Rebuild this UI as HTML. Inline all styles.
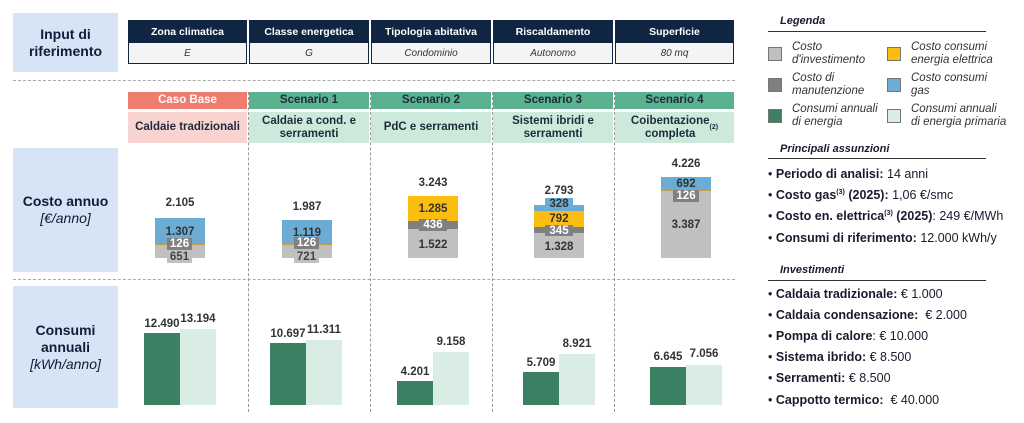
<!DOCTYPE html>
<html><head><meta charset="utf-8"><style>
*{margin:0;padding:0;box-sizing:border-box}
body{width:1024px;height:423px;background:#fff;font-family:"Liberation Sans",sans-serif;position:relative;overflow:hidden;color:#1a1a2e}
.a{position:absolute}
.lb{background:#d6e4f5;display:flex;flex-direction:column;justify-content:center;align-items:center;text-align:center;font-weight:bold;font-size:14px;color:#0f1e38;line-height:17px}
.lb i{font-weight:normal}
.hd{background:#0f2542;color:#fff;font-size:10.5px;font-weight:bold;display:flex;align-items:center;justify-content:center}
.vl{background:#f4f4f4;border:1px solid #0f2542;font-size:10px;font-style:italic;display:flex;align-items:center;justify-content:center;color:#333}
.sc{font-size:11.5px;font-weight:bold;display:flex;align-items:center;justify-content:center;text-align:center;line-height:13px;color:#1f2a3a}
.hl{border-top:1px dashed #aaa}
.vd{border-left:1px dashed #999}
.t{font-size:11.5px;font-weight:bold;color:#333;text-align:center}
.bx{font-size:11.5px;font-weight:bold;color:#fff;display:flex;align-items:center;justify-content:center}
.r{font-size:12.5px;color:#1a1a2e}
.sq{width:14px;height:14px;border:1px solid #777}
.li{font-size:11.5px;font-style:italic;color:#333;line-height:13px}
.ti{font-size:11px;font-weight:bold;font-style:italic}
.ul{height:1px;background:#333}
</style></head><body>
<div class="a lb" style="left:13px;top:13px;width:105px;height:59px">Input di<br>riferimento</div>
<div class="a lb" style="left:13px;top:148px;width:105px;height:124px">Costo annuo<i>[€/anno]</i></div>
<div class="a lb" style="left:13px;top:286px;width:105px;height:122px">Consumi<br>annuali<i>[kWh/anno]</i></div>

<div class="a hd" style="left:128px;top:20px;width:119px;height:23px">Zona climatica</div>
<div class="a hd" style="left:249px;top:20px;width:120px;height:23px">Classe energetica</div>
<div class="a hd" style="left:371px;top:20px;width:120px;height:23px">Tipologia abitativa</div>
<div class="a hd" style="left:493px;top:20px;width:120px;height:23px">Riscaldamento</div>
<div class="a hd" style="left:615px;top:20px;width:119px;height:23px">Superficie</div>
<div class="a vl" style="left:128px;top:42px;width:119px;height:22px">E</div>
<div class="a vl" style="left:249px;top:42px;width:120px;height:22px">G</div>
<div class="a vl" style="left:371px;top:42px;width:120px;height:22px">Condominio</div>
<div class="a vl" style="left:493px;top:42px;width:120px;height:22px">Autonomo</div>
<div class="a vl" style="left:615px;top:42px;width:119px;height:22px">80 mq</div>

<div class="a hl" style="left:13px;top:80px;width:722px"></div>
<div class="a hl" style="left:13px;top:279px;width:722px"></div>

<div class="a sc" style="left:128px;top:92px;width:119px;height:17px;background:#ef7d6f;color:#fff">Caso Base</div>
<div class="a sc" style="left:249px;top:92px;width:120px;height:17px;background:#5bb28e">Scenario 1</div>
<div class="a sc" style="left:371px;top:92px;width:120px;height:17px;background:#5bb28e">Scenario 2</div>
<div class="a sc" style="left:493px;top:92px;width:120px;height:17px;background:#5bb28e">Scenario 3</div>
<div class="a sc" style="left:615px;top:92px;width:119px;height:17px;background:#5bb28e">Scenario 4</div>
<div class="a sc" style="left:128px;top:112px;width:119px;height:31px;background:#f7d4cf">Caldaie tradizionali</div>
<div class="a sc" style="left:249px;top:112px;width:120px;height:31px;background:#cce9dc">Caldaie a cond. e<br>serramenti</div>
<div class="a sc" style="left:371px;top:112px;width:120px;height:31px;background:#cce9dc">PdC e serramenti</div>
<div class="a sc" style="left:493px;top:112px;width:120px;height:31px;background:#cce9dc">Sistemi ibridi e<br>serramenti</div>
<div class="a sc" style="left:615px;top:112px;width:119px;height:31px;background:#cce9dc">Coibentazione<br>completa<sup style="font-size:7px">(2)</sup></div>

<div class="a vd" style="left:248px;top:92px;height:320px"></div>
<div class="a vd" style="left:370px;top:92px;height:320px"></div>
<div class="a vd" style="left:492px;top:92px;height:320px"></div>
<div class="a vd" style="left:614px;top:92px;height:320px"></div>

<!-- cost bars -->
<div class="a" style="left:155px;top:218px;width:50px;height:26px;background:#6aacd4"></div>
<div class="a" style="left:155px;top:244px;width:50px;height:1px;background:#c59a4a"></div>
<div class="a" style="left:155px;top:245px;width:50px;height:13px;background:#c0c0c0"></div>
<div class="a t" style="left:150px;top:197px;width:60px">2.105</div>
<div class="a t" style="left:155px;top:226px;width:50px">1.307</div>
<div class="a bx" style="left:167px;top:238px;width:25px;height:12px;background:#808080">126</div>
<div class="a bx" style="left:167px;top:250px;width:25px;height:13px;background:#c0c0c0;color:#444">651</div>

<div class="a" style="left:282px;top:220px;width:50px;height:24px;background:#6aacd4"></div>
<div class="a" style="left:282px;top:244px;width:50px;height:1px;background:#c59a4a"></div>
<div class="a" style="left:282px;top:245px;width:50px;height:13px;background:#c0c0c0"></div>
<div class="a t" style="left:277px;top:201px;width:60px">1.987</div>
<div class="a t" style="left:282px;top:227px;width:50px">1.119</div>
<div class="a bx" style="left:294px;top:237px;width:25px;height:12px;background:#808080">126</div>
<div class="a bx" style="left:294px;top:250px;width:25px;height:13px;background:#c0c0c0;color:#444">721</div>

<div class="a" style="left:408px;top:196px;width:50px;height:25px;background:#fbbd0f"></div>
<div class="a" style="left:408px;top:221px;width:50px;height:8px;background:#808080"></div>
<div class="a" style="left:408px;top:229px;width:50px;height:29px;background:#c0c0c0"></div>
<div class="a t" style="left:403px;top:177px;width:60px">3.243</div>
<div class="a t" style="left:408px;top:203px;width:50px">1.285</div>
<div class="a bx" style="left:419px;top:219px;width:28px;height:12px;background:#808080">436</div>
<div class="a t" style="left:408px;top:239px;width:50px">1.522</div>

<div class="a" style="left:534px;top:205px;width:50px;height:6px;background:#6aacd4"></div>
<div class="a" style="left:534px;top:211px;width:50px;height:16px;background:#fbbd0f"></div>
<div class="a" style="left:534px;top:227px;width:50px;height:6px;background:#808080"></div>
<div class="a" style="left:534px;top:233px;width:50px;height:25px;background:#c0c0c0"></div>
<div class="a t" style="left:529px;top:185px;width:60px">2.793</div>
<div class="a bx" style="left:545px;top:198px;width:28px;height:12px;background:#6aacd4;color:#333">328</div>
<div class="a t" style="left:534px;top:213px;width:50px">792</div>
<div class="a bx" style="left:545px;top:225px;width:28px;height:11px;background:#808080">345</div>
<div class="a t" style="left:534px;top:241px;width:50px">1.328</div>

<div class="a" style="left:661px;top:177px;width:50px;height:13px;background:#6aacd4"></div>
<div class="a" style="left:661px;top:190px;width:50px;height:1px;background:#c59a4a"></div>
<div class="a" style="left:661px;top:191px;width:50px;height:67px;background:#c0c0c0"></div>
<div class="a t" style="left:656px;top:158px;width:60px">4.226</div>
<div class="a t" style="left:661px;top:178px;width:50px">692</div>
<div class="a bx" style="left:673px;top:190px;width:26px;height:12px;background:#808080">126</div>
<div class="a t" style="left:661px;top:219px;width:50px">3.387</div>

<!-- consumption bars -->
<div class="a" style="left:144px;top:333px;width:36px;height:72px;background:#3c8064"></div>
<div class="a" style="left:180px;top:329px;width:36px;height:76px;background:#d9ede4"></div>
<div class="a t" style="left:137px;top:318px;width:50px">12.490</div>
<div class="a t" style="left:173px;top:313px;width:50px">13.194</div>
<div class="a" style="left:270px;top:343px;width:36px;height:62px;background:#3c8064"></div>
<div class="a" style="left:306px;top:340px;width:36px;height:65px;background:#d9ede4"></div>
<div class="a t" style="left:263px;top:328px;width:50px">10.697</div>
<div class="a t" style="left:299px;top:324px;width:50px">11.311</div>
<div class="a" style="left:397px;top:381px;width:36px;height:24px;background:#3c8064"></div>
<div class="a" style="left:433px;top:352px;width:36px;height:53px;background:#d9ede4"></div>
<div class="a t" style="left:390px;top:366px;width:50px">4.201</div>
<div class="a t" style="left:426px;top:336px;width:50px">9.158</div>
<div class="a" style="left:523px;top:372px;width:36px;height:33px;background:#3c8064"></div>
<div class="a" style="left:559px;top:354px;width:36px;height:51px;background:#d9ede4"></div>
<div class="a t" style="left:516px;top:357px;width:50px">5.709</div>
<div class="a t" style="left:552px;top:338px;width:50px">8.921</div>
<div class="a" style="left:650px;top:367px;width:36px;height:38px;background:#3c8064"></div>
<div class="a" style="left:686px;top:365px;width:36px;height:40px;background:#d9ede4"></div>
<div class="a t" style="left:643px;top:351px;width:50px">6.645</div>
<div class="a t" style="left:679px;top:348px;width:50px">7.056</div>

<!-- right panel -->
<div class="a ti" style="left:780px;top:15px">Legenda</div>
<div class="a ul" style="left:768px;top:31px;width:218px"></div>
<div class="a sq" style="left:768px;top:47px;background:#c0c0c0"></div>
<div class="a li" style="left:792px;top:41px">Costo<br>d'investimento</div>
<div class="a sq" style="left:887px;top:47px;background:#fbbd0f"></div>
<div class="a li" style="left:911px;top:41px">Costo consumi<br>energia elettrica</div>
<div class="a sq" style="left:768px;top:78px;background:#808080"></div>
<div class="a li" style="left:792px;top:72px">Costo di<br>manutenzione</div>
<div class="a sq" style="left:887px;top:78px;background:#6aacd4"></div>
<div class="a li" style="left:911px;top:72px">Costo consumi<br>gas</div>
<div class="a sq" style="left:768px;top:109px;background:#3c8064"></div>
<div class="a li" style="left:792px;top:103px">Consumi annuali<br>di energia</div>
<div class="a sq" style="left:887px;top:109px;background:#d9ede4"></div>
<div class="a li" style="left:911px;top:103px">Consumi annuali<br>di energia primaria</div>

<div class="a ti" style="left:780px;top:143px">Principali assunzioni</div>
<div class="a ul" style="left:768px;top:158px;width:218px"></div>
<div class="a r" style="left:768px;top:167px">• <b>Periodo di analisi:</b> 14 anni</div>
<div class="a r" style="left:768px;top:188px">• <b>Costo gas<sup style="font-size:7px">(3)</sup> (2025):</b> 1,06 €/smc</div>
<div class="a r" style="left:768px;top:209px">• <b>Costo en. elettrica<sup style="font-size:7px">(3)</sup> (2025)</b>: 249 €/MWh</div>
<div class="a r" style="left:768px;top:231px">• <b>Consumi di riferimento:</b> 12.000 kWh/y</div>

<div class="a ti" style="left:780px;top:264px">Investimenti</div>
<div class="a ul" style="left:768px;top:280px;width:218px"></div>
<div class="a r" style="left:768px;top:287px">• <b>Caldaia tradizionale:</b> € 1.000</div>
<div class="a r" style="left:768px;top:308px">• <b>Caldaia condensazione:</b>&nbsp; € 2.000</div>
<div class="a r" style="left:768px;top:329px">• <b>Pompa di calore</b>: € 10.000</div>
<div class="a r" style="left:768px;top:350px">• <b>Sistema ibrido:</b> € 8.500</div>
<div class="a r" style="left:768px;top:371px">• <b>Serramenti:</b> € 8.500</div>
<div class="a r" style="left:768px;top:393px">• <b>Cappotto termico:</b>&nbsp; € 40.000</div>
</body></html>
